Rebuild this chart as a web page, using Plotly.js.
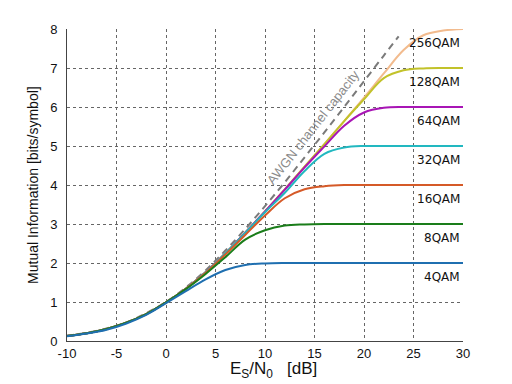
<!DOCTYPE html>
<html>
<head>
<meta charset="utf-8">
<script src="https://cdn.plot.ly/plotly-3.0.1.min.js"></script>
<style>html,body{margin:0;padding:0;background:#fff;}#chart{width:512px;height:384px;}</style>
</head>
<body>
<div id="chart"></div>
<script>
// Es/N0 grid [dB]
const snr = [-10,-8,-6,-4,-2,0,2,4,6,8,10,12,14,16,18,20,22,24,26,28,30];
const snrCap = [-10,-8,-6,-4,-2,0,2,4,6,8,10,12,14,16,18,20,22,23.5];

// AWGN channel capacity
const capacity = [0.14,0.21,0.32,0.48,0.71,1.0,1.37,1.81,2.32,2.87,3.46,4.07,4.71,5.35,6.0,6.66,7.32,7.81];

// Mutual information per modulation [bits/symbol]
const qam4   = [0.12,0.19,0.29,0.45,0.67,0.97,1.28,1.58,1.82,1.95,1.99,2.0,2.0,2.0,2.0,2.0,2.0,2.0,2.0,2.0,2.0];
const qam8   = [0.13,0.20,0.31,0.47,0.69,0.99,1.33,1.72,2.15,2.60,2.84,2.96,2.99,3.0,3.0,3.0,3.0,3.0,3.0,3.0,3.0];
const qam16  = [0.13,0.20,0.31,0.47,0.69,0.99,1.34,1.75,2.22,2.72,3.22,3.66,3.89,3.97,4.0,4.0,4.0,4.0,4.0,4.0,4.0];
const qam32  = [0.13,0.20,0.31,0.47,0.69,0.99,1.34,1.76,2.25,2.77,3.30,3.80,4.36,4.80,4.96,5.0,5.0,5.0,5.0,5.0,5.0];
const qam64  = [0.13,0.20,0.31,0.47,0.69,0.99,1.34,1.76,2.25,2.78,3.32,3.88,4.45,4.99,5.52,5.86,5.98,6.0,6.0,6.0,6.0];
const qam128 = [0.13,0.20,0.31,0.47,0.69,0.99,1.34,1.76,2.25,2.78,3.32,3.89,4.47,5.05,5.64,6.20,6.74,6.94,6.99,7.0,7.0];
const qam256 = [0.13,0.20,0.31,0.47,0.69,0.99,1.34,1.76,2.25,2.78,3.32,3.89,4.47,5.05,5.64,6.24,6.86,7.46,7.84,7.96,8.0];

const names  = ['4QAM','8QAM','16QAM','32QAM','64QAM','128QAM','256QAM'];
const series = [qam4,qam8,qam16,qam32,qam64,qam128,qam256];
const levels = [2,3,4,5,6,7,8];
const colors = ['#1f6fb0','#1a7d1a','#d55a28','#22b8c0','#a815b5','#c2c22a','#f2bb8e'];

const xTicks = [-10,-5,0,5,10,15,20,25,30];
const yTicks = [0,1,2,3,4,5,6,7,8];

const traces = [{
  x: snrCap, y: capacity, type: 'scatter', mode: 'lines',
  line: {color: '#7a7a7a', width: 2, dash: '7px,5px', shape: 'spline', smoothing: 1},
  hoverinfo: 'skip', showlegend: false
}];
for (let i = series.length - 1; i >= 0; i--) {
  traces.push({
    x: snr, y: series[i], type: 'scatter', mode: 'lines', name: names[i],
    line: {color: colors[i], width: 2, shape: 'spline', smoothing: 1},
    showlegend: false
  });
}

const annotations = names.map((n, i) => ({
  x: 30, y: levels[i] - 0.36, xref: 'x', yref: 'y',
  text: n, showarrow: false, xanchor: 'right', yanchor: 'middle', xshift: -1,
  font: {family: 'DejaVu Sans, sans-serif', size: 12, color: '#111'}
}));
annotations.push({
  x: 14.85, y: 5.47, xref: 'x', yref: 'y',
  text: 'AWGN channel capacity', showarrow: false, textangle: -52,
  font: {family: 'Liberation Sans, Arial, sans-serif', size: 13, color: '#8a8a8a'}
});
// axis titles
annotations.push({
  x: 10.9, y: -0.093, xref: 'x', yref: 'paper',
  text: 'E<sub>S</sub>/N<sub>0</sub>&nbsp;&nbsp;&nbsp;[dB]', showarrow: false,
  xanchor: 'center', yanchor: 'middle',
  font: {family: 'Liberation Sans, Arial, sans-serif', size: 17, color: '#111'}
});
annotations.push({
  x: -0.086, y: 0.5, xref: 'paper', yref: 'paper',
  text: 'Mutual Information [bits/symbol]', showarrow: false, textangle: -90,
  xanchor: 'center', yanchor: 'middle',
  font: {family: 'Liberation Sans, Arial, sans-serif', size: 14, color: '#111'}
});

const layout = {
  width: 512, height: 384,
  margin: {l: 67, r: 49, t: 29, b: 43},
  paper_bgcolor: '#fff', plot_bgcolor: '#fff',
  showlegend: false,
  font: {family: 'Liberation Sans, Arial, sans-serif', size: 13, color: '#111'},
  xaxis: {
    range: [-10, 30], tickvals: xTicks, ticktext: xTicks.map(String),
    showgrid: true, gridcolor: '#666', griddash: 'dot', gridwidth: 1,
    zeroline: false, showline: true, linecolor: '#444', linewidth: 1,
    ticks: '', tickfont: {size: 13}
  },
  yaxis: {
    range: [0, 8], tickvals: yTicks, ticktext: yTicks.map(String),
    showgrid: true, gridcolor: '#666', griddash: 'dot', gridwidth: 1,
    zeroline: false, showline: true, linecolor: '#444', linewidth: 1,
    ticks: '', tickfont: {size: 13}, ticklabelstandoff: 6
  },
  annotations: annotations
};

Plotly.newPlot('chart', traces, layout, {staticPlot: true, displayModeBar: false});
</script>
</body>
</html>
